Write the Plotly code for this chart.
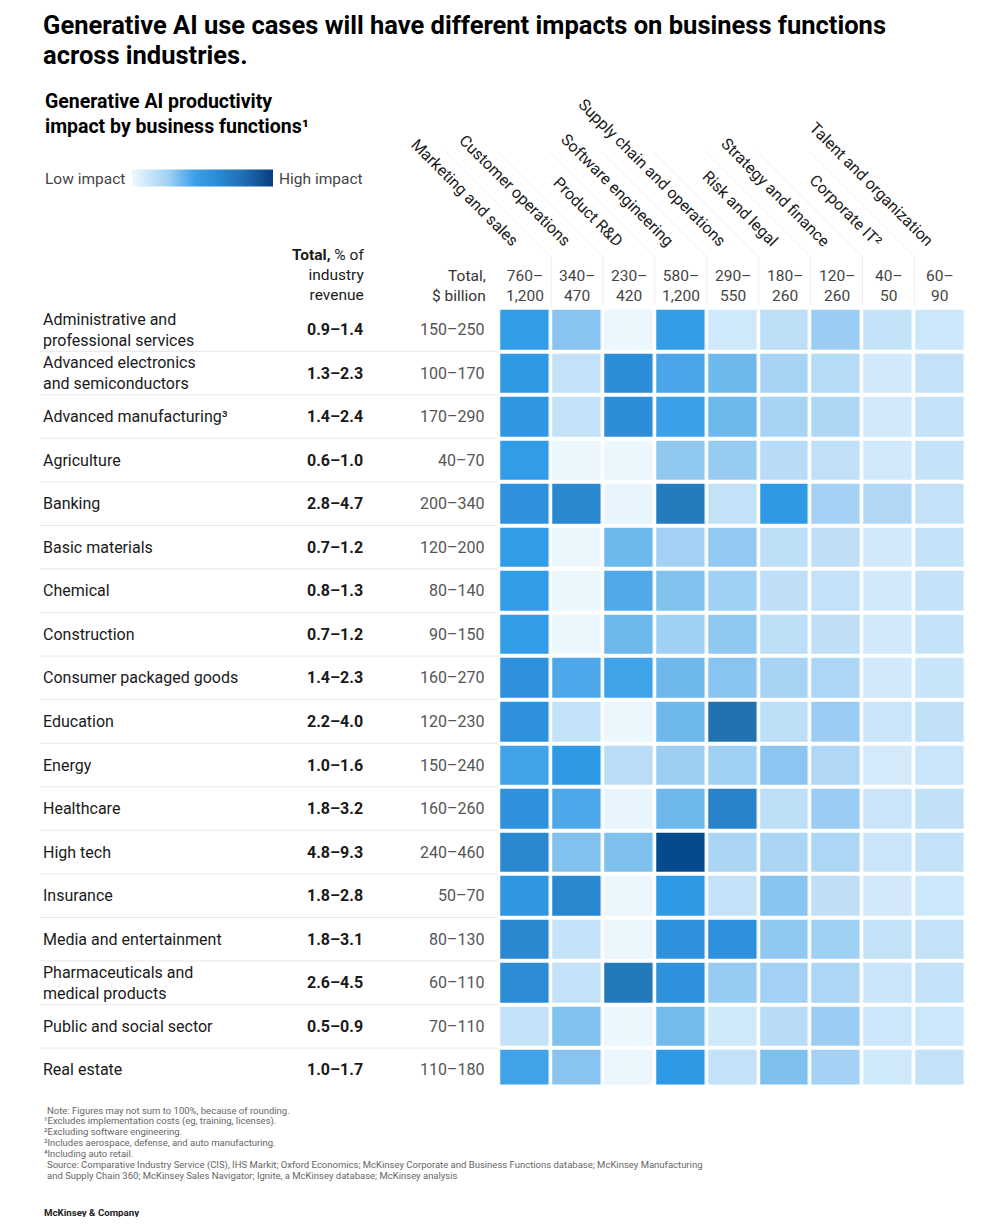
import plotly.graph_objects as go

W, H = 1005, 1225      # target picture size
OFF = 8                # page body margin
FW, FH = W - 2 * OFF, H - 2 * OFF

industries = [
    "Administrative and<br>professional services",
    "Advanced electronics<br>and semiconductors",
    "Advanced manufacturing³",
    "Agriculture",
    "Banking",
    "Basic materials",
    "Chemical",
    "Construction",
    "Consumer packaged goods",
    "Education",
    "Energy",
    "Healthcare",
    "High tech",
    "Insurance",
    "Media and entertainment",
    "Pharmaceuticals and<br>medical products",
    "Public and social sector",
    "Real estate",
]
pct_revenue = ["0.9–1.4", "1.3–2.3", "1.4–2.4", "0.6–1.0", "2.8–4.7", "0.7–1.2",
               "0.8–1.3", "0.7–1.2", "1.4–2.3", "2.2–4.0", "1.0–1.6", "1.8–3.2",
               "4.8–9.3", "1.8–2.8", "1.8–3.1", "2.6–4.5", "0.5–0.9", "1.0–1.7"]
usd_billion = ["150–250", "100–170", "170–290", "40–70", "200–340", "120–200",
               "80–140", "90–150", "160–270", "120–230", "150–240", "160–260",
               "240–460", "50–70", "80–130", "60–110", "70–110", "110–180"]
functions = ["Marketing and sales", "Customer operations", "Product R&D",
             "Software engineering", "Supply chain and operations", "Risk and legal",
             "Strategy and finance", "Corporate IT²", "Talent and organization"]
function_totals = [("760–", "1,200"), ("340–", "470"), ("230–", "420"), ("580–", "1,200"),
                   ("290–", "550"), ("180–", "260"), ("120–", "260"), ("40–", "50"), ("60–", "90")]

# relative impact (0 = low, 100 = high), read from cell shading
impact = [
    [75, 50, 2, 74, 18, 30, 45, 25, 20],
    [76, 26, 82, 66, 58, 40, 33, 17, 26],
    [78, 26, 82, 72, 58, 40, 37, 17, 26],
    [75, 1, 2, 48, 46, 32, 28, 17, 25],
    [80, 85, 3, 90, 26, 76, 41, 36, 26],
    [75, 1, 58, 42, 47, 30, 29, 17, 25],
    [75, 1, 64, 52, 43, 29, 26, 17, 25],
    [75, 1, 58, 43, 48, 30, 29, 17, 25],
    [80, 65, 70, 58, 50, 40, 38, 17, 24],
    [80, 26, 2, 58, 93, 30, 45, 22, 27],
    [70, 76, 31, 44, 43, 49, 36, 15, 22],
    [80, 65, 3, 58, 87, 30, 45, 22, 27],
    [85, 52, 53, 100, 39, 39, 38, 22, 26],
    [78, 85, 2, 76, 25, 50, 29, 16, 20],
    [85, 25, 2, 80, 80, 48, 43, 26, 26],
    [83, 26, 91, 80, 46, 42, 38, 22, 26],
    [25, 52, 2, 56, 18, 32, 45, 20, 20],
    [70, 50, 2, 76, 26, 53, 41, 18, 26],
]

colorscale = [
    [0.00, "#eef8fd"], [0.15, "#d4eafb"], [0.25, "#c5e3f8"], [0.30, "#bcdef7"],
    [0.38, "#acd6f5"], [0.45, "#9bcdf2"], [0.50, "#88c4ef"], [0.58, "#6db8ec"],
    [0.65, "#4ea7e9"], [0.72, "#3aa0e8"], [0.76, "#2e9ae6"], [0.80, "#2e91dd"],
    [0.85, "#2a88d0"], [0.91, "#2479b8"], [0.95, "#1f6aa5"], [1.00, "#064a8e"],
]
legend_scale = [
    [0.00, "#eef8fe"], [0.25, "#a3d2f4"], [0.45, "#3a9fe6"], [0.60, "#2a8cd8"],
    [0.80, "#1e6cb0"], [1.00, "#073f80"],
]


def px(x):
    return (x - OFF) / FW


def py(y):
    return 1 - (y - OFF) / FH


# grid geometry (pixels in the target picture)
col_pitch = 51.9
row_pitch = 43.55
grid_left = 499.25
grid_top = 307.7
grid_bottom = 1084.5
n_rows, n_cols = len(industries), len(functions)
grid_right = grid_left + n_cols * col_pitch
visible_rows = (grid_bottom - grid_top) / row_pitch

fig = go.Figure()
fig.add_trace(go.Heatmap(
    z=impact,
    x=list(range(n_cols)),
    y=list(range(n_rows)),
    zmin=0, zmax=100,
    colorscale=colorscale,
    xgap=3.6, ygap=4,
    hoverinfo="skip",
    showscale=False,
))
# legend gradient (Low impact -> High impact)
fig.add_trace(go.Scatter(
    x=[None], y=[None], mode="markers", hoverinfo="skip", showlegend=False,
    marker=dict(
        color=[0, 1], cmin=0, cmax=1, colorscale=legend_scale, showscale=True,
        colorbar=dict(
            orientation="h", x=px(132), xanchor="left", y=py(178.5), yanchor="middle",
            len=141, lenmode="pixels", thickness=17, thicknessmode="pixels",
            xpad=0, ypad=0,
            showticklabels=False, ticks="", outlinewidth=0,
        ),
    ),
))

fig.update_xaxes(domain=[px(grid_left), px(grid_right)], range=[-0.5, n_cols - 0.5],
                 visible=False, fixedrange=True)
fig.update_yaxes(domain=[py(grid_bottom), py(grid_top)],
                 range=[-0.5 + visible_rows, -0.5], visible=False, fixedrange=True)

FONT = "Roboto"
DARK = "#1a1a1a"
ann = []


def add_text(x, y, text, size=15, color=DARK, xanchor="left", yanchor="middle",
             align="left", family=FONT, angle=0):
    ann.append(dict(x=px(x), y=py(y), xref="paper", yref="paper", text=text,
                    showarrow=False, xanchor=xanchor, yanchor=yanchor, align=align,
                    textangle=angle, font=dict(size=size, color=color, family=family)))


# titles
add_text(41, 25, "<b>Generative AI use cases will have different impacts on business functions</b>",
         size=25.5, color="#000000")
add_text(41, 55, "<b>across industries.</b>", size=25.5, color="#000000")
add_text(43, 114, "<b>Generative AI productivity<br>impact by business functions¹</b>",
         size=19.5, color="#000000")

# legend labels
add_text(43, 179, "Low impact", size=15.5, color="#444444")
add_text(277, 179, "High impact", size=15.5, color="#444444")

# column headers
add_text(366, 275, "<b>Total,</b> % of<br>industry<br>revenue", size=15.5,
         xanchor="right", align="right")
add_text(488, 285.5, "Total,<br>$ billion", size=15.5, xanchor="right", align="right",
         color="#333333")

for j, name in enumerate(functions):
    cx = grid_left + (j + 0.5) * col_pitch
    add_text(cx, 253, name, size=16, xanchor="right", yanchor="bottom", angle=45)
    top, bot = function_totals[j]
    add_text(cx, 285.5, f"{top}<br>{bot}", size=15.5, xanchor="center", align="center",
             color="#444444")

shapes = []
for i, name in enumerate(industries):
    cy = grid_top + 2 + i * row_pitch + 19.8
    add_text(41, cy, name, size=16)
    add_text(365, cy, f"<b>{pct_revenue[i]}</b>", size=16, xanchor="right")
    add_text(486, cy, usd_billion[i], size=16, xanchor="right", color="#555555")
    if i > 0:
        ly = grid_top + i * row_pitch
        shapes.append(dict(type="line", xref="paper", yref="paper", x0=px(40), x1=px(497),
                           y0=py(ly), y1=py(ly), line=dict(color="#e6e6e6", width=1)))

# faint header separators
for j in range(1, n_cols):
    bx = grid_left + j * col_pitch
    shapes.append(dict(type="line", xref="paper", yref="paper", x0=px(bx), x1=px(bx),
                       y0=py(257), y1=py(305), line=dict(color="#eeeeee", width=1)))
    shapes.append(dict(type="line", xref="paper", yref="paper", x0=px(bx), x1=px(bx - 105),
                       y0=py(257), y1=py(152), line=dict(color="#f0f0f0", width=1)))

# footnotes
notes = [
    (45, "Note: Figures may not sum to 100%, because of rounding."),
    (42, "¹Excludes implementation costs (eg, training, licenses)."),
    (42, "²Excluding software engineering."),
    (42, "³Includes aerospace, defense, and auto manufacturing."),
    (42, "⁴Including auto retail."),
    (45, "Source: Comparative Industry Service (CIS), IHS Markit; Oxford Economics; McKinsey Corporate and Business Functions database; McKinsey Manufacturing"),
    (45, "and Supply Chain 360; McKinsey Sales Navigator; Ignite, a McKinsey database; McKinsey analysis"),
]
for k, (nx, t) in enumerate(notes):
    add_text(nx, 1110 + k * 10.9, t, size=9.5, color="#666666")
add_text(42, 1212, "<b>McKinsey & Company</b>", size=9.7, color="#222222")

fig.update_layout(
    width=FW, height=FH,
    margin=dict(l=0, r=0, t=0, b=0),
    paper_bgcolor="white", plot_bgcolor="white",
    annotations=ann, shapes=shapes,
    font=dict(family=FONT),
)

fig.write_html("out.html")
